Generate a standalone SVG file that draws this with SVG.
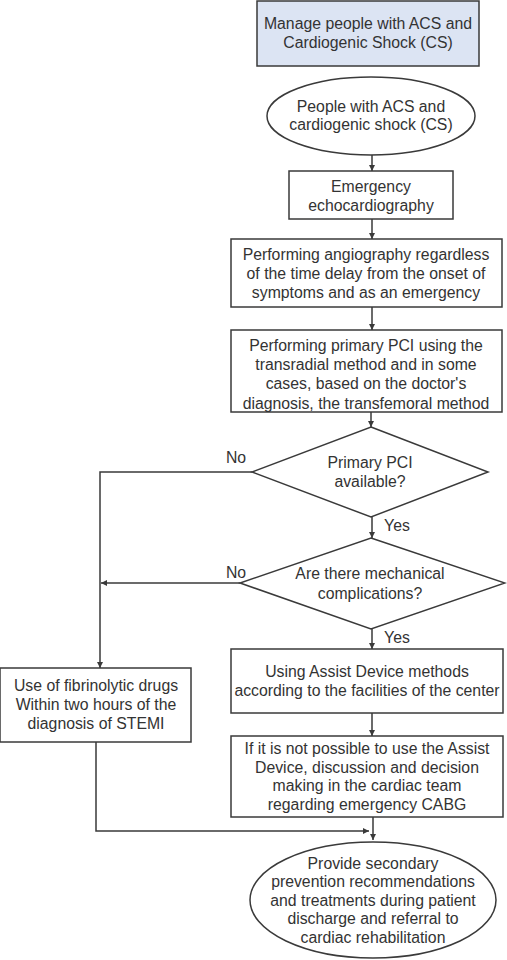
<svg xmlns="http://www.w3.org/2000/svg" width="507" height="960" viewBox="0 0 507 960">
<style>
.n{fill:#fff;stroke:#3a3a3a;stroke-width:1.5}
.h{fill:#dce4f3;stroke:#3a3a3a;stroke-width:1.5}
text{font-family:"Liberation Sans",Arial,sans-serif;font-size:15.8px;fill:#333;text-anchor:middle;dominant-baseline:central}
.c{fill:none;stroke:#3a3a3a;stroke-width:1.5}
</style>
<defs>
<marker id="a" viewBox="0 0 10 10" refX="10" refY="5" markerWidth="7" markerHeight="6" markerUnits="userSpaceOnUse" orient="auto"><path d="M0,0L10,5L0,10z" fill="#3a3a3a"/></marker>
</defs>
<rect width="507" height="960" fill="#fff"/>
<g id="title"><rect class="h" x="257" y="1" width="222" height="65"/><text x="368" y="23">Manage people with ACS and</text><text x="368" y="42">Cardiogenic Shock (CS)</text></g>
<g id="start"><ellipse class="n" cx="371" cy="116" rx="104" ry="39"/><text x="371" y="106">People with ACS and</text><text x="371" y="124">cardiogenic shock (CS)</text></g>
<g id="echo"><rect class="n" x="289" y="171" width="164" height="48"/><text x="371" y="186">Emergency</text><text x="371" y="205">echocardiography</text></g>
<g id="angio"><rect class="n" x="231" y="239" width="271" height="68"/><text x="366" y="254">Performing angiography regardless</text><text x="366" y="273">of the time delay from the onset of</text><text x="366" y="292">symptoms and as an emergency</text></g>
<g id="pci"><rect class="n" x="231" y="330" width="271" height="82"/><text x="366" y="345">Performing primary PCI using the</text><text x="366" y="364">transradial method and in some</text><text x="366" y="383">cases, based on the doctor's</text><text x="366" y="403">diagnosis, the transfemoral method</text></g>
<g id="d1"><polygon class="n" points="371,427 488,472 371,517 252,472"/><text x="370" y="462">Primary PCI</text><text x="370" y="481">available?</text></g>
<g id="d2"><polygon class="n" points="371,538 505,583 371,629 240,583"/><text x="370" y="573">Are there mechanical</text><text x="370" y="593">complications?</text></g>
<g id="assist"><rect class="n" x="231" y="649" width="272" height="64"/><text x="367" y="671">Using Assist Device methods</text><text x="367" y="690">according to the facilities of the center</text></g>
<g id="fib"><rect class="n" x="0" y="668" width="191" height="74"/><text x="96" y="685">Use of fibrinolytic drugs</text><text x="96" y="704">Within two hours of the</text><text x="96" y="723">diagnosis of STEMI</text></g>
<g id="cabg"><rect class="n" x="231" y="736" width="272" height="81"/><text x="367" y="748">If it is not possible to use the Assist</text><text x="367" y="767">Device, discussion and decision</text><text x="367" y="785">making in the cardiac team</text><text x="367" y="804">regarding emergency CABG</text></g>
<g id="end"><ellipse class="n" cx="373" cy="900" rx="123" ry="58"/><text x="373" y="863">Provide secondary</text><text x="373" y="881">prevention recommendations</text><text x="373" y="900">and treatments during patient</text><text x="373" y="918">discharge and referral to</text><text x="373" y="937">cardiac rehabilitation</text></g>
<g id="connectors">
<line class="c" x1="372" y1="155" x2="372" y2="171" marker-end="url(#a)"/>
<line class="c" x1="372" y1="219" x2="372" y2="239" marker-end="url(#a)"/>
<line class="c" x1="372" y1="307" x2="372" y2="330" marker-end="url(#a)"/>
<line class="c" x1="371" y1="412" x2="371" y2="427" marker-end="url(#a)"/>
<line class="c" x1="372" y1="517" x2="372" y2="538" marker-end="url(#a)"/>
<line class="c" x1="372" y1="629" x2="372" y2="649" marker-end="url(#a)"/>
<line class="c" x1="372" y1="713" x2="372" y2="736" marker-end="url(#a)"/>
<line class="c" x1="373" y1="817" x2="373" y2="840" marker-end="url(#a)"/>
<polyline class="c" points="252,472 100,472 100,668" marker-end="url(#a)"/>
<line class="c" x1="240" y1="583" x2="101" y2="583" marker-end="url(#a)"/>
<polyline class="c" points="96,742 96,831 369,831" marker-end="url(#a)"/>
<text x="236" y="457">No</text>
<text x="236" y="572">No</text>
<text x="397" y="525">Yes</text>
<text x="397" y="637">Yes</text>
</g>
</svg>
